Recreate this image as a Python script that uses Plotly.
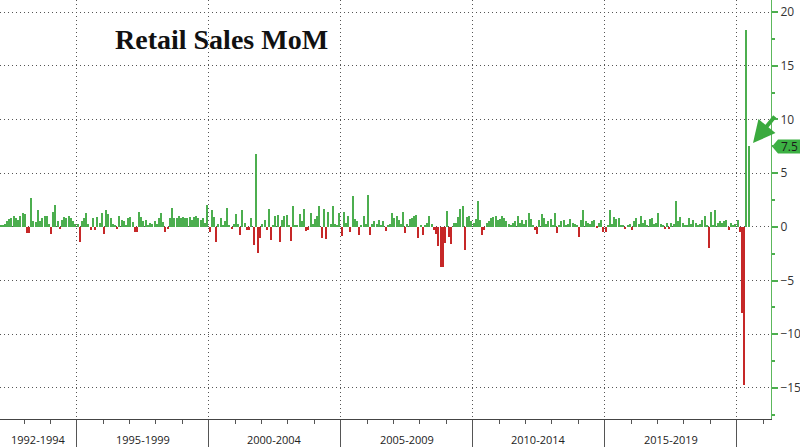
import pandas as pd
import plotly.graph_objects as go

# Monthly US retail sales, % change MoM (Feb 1992 - Jun 2020)
v_1992_1994 = [0.1, 0.2, 0.25, 0.55, 0.75, 0.85, 1.0, 0.8, 0.6, 1.05, 1.3,
               1.2, -0.6, -0.6, 2.7, 0.55, 0.45, 1.6, 0.5, 0.8, 1.05, 1.05, 0.3,
               -0.7, 1.4, 2.0, 0.5, -0.2, 0.65, 0.95, 0.8, 1.05, 0.85, 0.5, 0.3]
v_1995_1999 = [0.25, -1.45, 0.55, 0.85, 1.3, 0.25, -0.3, 0.8, -0.3, 0.95, 0.35, 1.3,
               -0.7, 1.6, 1.2, 0.85, 0.25, 0.1, -0.2, 1.05, 0.65, 0.5, 0.1, 0.8,
               0.95, 0.45, -0.45, -0.5, 1.4, 0.95, 0.5, 0.65, 0.1, 0.35, 0.25, 0.5,
               0.25, 0.8, 1.3, 0.45, -0.45, -0.2, 0.8, 1.75, 0.85, 0.85, 1.05, 0.85,
               0.95, 0.85, 0.8, 0.95, 0.6, 0.9, 1.0, 0.8, 0.6, 0.8, 0.4, 2.0]
v_2000_2004 = [-0.5, 1.6, 0.9, -1.4, 0.3, 0.8, 0.2, 0.5, 1.8, 0.1, -0.2, 0.3,
               1.2, 0.3, -0.75, 1.6, 0.4, -0.3, -0.3, 0.8, -1.7, 6.8, -2.4, -1.05,
               0.3, 0.6, -0.3, 1.7, -1.2, 0.2, 1.0, 1.1, -1.4, 0.6, 1.0, 1.1,
               0.2, -1.3, 1.9, 0.1, 0.2, 1.2, 0.5, 1.7, -0.4, -0.3, 1.3, 0.3,
               0.7, 1.0, 1.9, -1.0, 1.7, -1.15, 1.4, 0.3, 1.9, 0.3, 0.2, 1.3]
v_2005_2009 = [-0.85, 1.4, 0.4, 1.0, -0.45, 2.9, 0.7, 0.5, -0.75, 0.2, 1.0, 0.3,
               3.0, -0.8, 0.3, 0.5, 0.3, 0.6, 0.2, 0.5, -0.4, 0.2, 0.3, 1.3,
               0.8, 1.0, 0.6, 0.3, 1.4, -0.6, 0.3, 0.7, 0.8, 1.0, 1.1, -1.05,
               0.2, -0.75, 0.1, 0.4, 1.0, 0.3, -0.3, -0.7, -1.8, -3.7, -3.7, -1.5,
               1.5, -0.9, -1.6, 0.4, 0.4, 0.9, 1.7, 1.9, -2.2, 0.9, 1.0, 0.5]
v_2010_2014 = [0.4, 0.7, 2.4, 0.6, -0.75, -0.3, 0.4, 0.5, 0.8, 0.9, 1.0, 0.6,
               0.7, 1.0, 0.8, 0.5, 0.3, 0.2, 0.4, 0.5, 1.0, 0.4, 0.6, 0.3,
               0.6, 1.3, 0.7, 0.2, -0.3, -0.7, 0.6, 1.2, 0.8, 0.3, 0.5, 0.7,
               0.2, 1.3, -0.6, 0.2, 0.5, 0.6, 0.2, 0.3, 0.7, 0.4, 0.3, 0.1,
               -0.95, 0.6, 1.6, 0.5, 0.4, 0.3, 0.5, 0.6, -0.1, 0.4, 0.6, -0.45]
v_2015_2019 = [-0.45, 0.2, 1.6, 0.3, 0.9, 0.7, 0.8, 0.2, 0.1, -0.2, 0.2, 0.3,
               -0.3, 0.5, 0.8, 0.3, 1.0, 0.4, 0.6, 0.2, 0.7, 0.8, 0.3, 0.4,
               1.3, 0.3, 0.1, -0.2, 0.4, -0.2, 0.4, 0.3, 2.4, 0.5, 0.9, 0.4,
               0.2, 0.2, 0.8, 0.3, 0.6, 0.4, 0.2, 0.3, 0.6, 1.0, 0.2, -2.0,
               1.4, 0.2, 1.6, 0.4, 0.5, 0.4, 0.5, 0.6, -0.3, 0.4, 0.2, 0.3]
v_2020 = [0.6, -0.5, -8.0, -14.7, 18.3, 7.5]

period_labels = ["1992-1994", "1995-1999", "2000-2004", "2005-2009", "2010-2014", "2015-2019"]
period_bounds = ["1992-01-01", "1995-01-01", "2000-01-01", "2005-01-01",
                 "2010-01-01", "2015-01-01", "2020-01-01"]
y_ticks = [-15, -10, -5, 0, 5, 10, 15, 20]
last_value = 7.5

values = v_1992_1994 + v_1995_1999 + v_2000_2004 + v_2005_2009 + v_2010_2014 + v_2015_2019 + v_2020
months = pd.date_range("1992-02-01", periods=len(values), freq="MS") + pd.Timedelta(days=14)

GREEN = "#4cae4f"
RED = "#c62828"
colors = [GREEN if v >= 0 else RED for v in values]

x_start = pd.Timestamp("1992-02-04")
x_end = pd.Timestamp("2021-04-19")

W, H = 800, 447
ML, MR, MT, MB = 0, 29, 0, 28
PW, PH = W - ML - MR, H - MT - MB


def px_x(px):
    return (px - ML) / PW


def px_y(py):
    return (H - MB - py) / PH


def date_paper(d):
    d = pd.Timestamp(d)
    return (d - x_start) / (x_end - x_start)


fig = go.Figure()
fig.add_trace(go.Bar(
    x=months, y=values, marker=dict(color=colors, line=dict(width=0)),
    width=20 * 86400000, showlegend=False, hoverinfo="x+y",
))

annotations = []
for i, lab in enumerate(period_labels):
    a = max(date_paper(period_bounds[i]), 0)
    b = date_paper(period_bounds[i + 1])
    annotations.append(dict(x=(a + b) / 2, y=px_y(439), xref="paper", yref="paper",
                            text=lab, showarrow=False, xanchor="center", yanchor="middle",
                            borderpad=0,
                            font=dict(family="Open Sans", size=11, color="#222")))

annotations.append(dict(x=px_x(113), y=px_y(40), xref="paper", yref="paper",
                        text="<b>Retail Sales MoM</b>", showarrow=False,
                        xanchor="left", yanchor="middle",
                        font=dict(family="Liberation Serif", size=28, color="#111")))

# arrow pointing to the last bar
annotations.append(dict(x=px_x(753), y=7.8, xref="paper", yref="y", text="",
                        showarrow=True, ax=23, ay=-28, arrowcolor="#3aaa3e",
                        arrowwidth=4, arrowhead=2, arrowsize=1.1))

# last value label
annotations.append(dict(x=px_x(790), y=last_value, xref="paper", yref="y",
                        text=f"{last_value}", showarrow=False, xanchor="center",
                        yanchor="middle", font=dict(family="Open Sans", size=12, color="#1b1b1b")))

y_lab = 227 - last_value * 10.74
shapes = [dict(type="path", xref="paper", yref="paper",
               path=(f"M {px_x(772)} {px_y(y_lab)} L {px_x(778)} {px_y(y_lab - 7)} "
                     f"L {px_x(800)} {px_y(y_lab - 7)} L {px_x(800)} {px_y(y_lab + 7)} "
                     f"L {px_x(778)} {px_y(y_lab + 7)} Z"),
               fillcolor="#3cb043", line=dict(width=0), layer="below")]

GRID_DASH = "1px,3px"

fig.update_layout(
    width=W, height=H, margin=dict(l=ML, r=MR, t=MT, b=MB),
    paper_bgcolor="white", plot_bgcolor="white",
    bargap=0, annotations=annotations, shapes=shapes,
    xaxis=dict(type="date", range=[x_start, x_end],
               tickvals=period_bounds[1:], showticklabels=False,
               ticks="outside", ticklen=28, tickcolor="#555", tickwidth=1,
               showgrid=True, gridcolor="#555", griddash=GRID_DASH, gridwidth=1,
               showline=True, linecolor="#444", linewidth=1, zeroline=False,
               minor=dict(dtick="M12", tick0="1992-01-01", ticks="outside",
                          ticklen=4, tickcolor="#555", showgrid=False)),
    yaxis=dict(side="right", range=[-17.89, 21.12], tickvals=y_ticks,
               ticks="outside", ticklen=6, tickcolor="#4cae4f", tickwidth=2,
               showline=True, linecolor="#5cb85c", linewidth=1,
               showgrid=True, gridcolor="#555", griddash=GRID_DASH, gridwidth=1,
               zeroline=False,
               tickfont=dict(family="Open Sans", size=12, color="#333"),
               minor=dict(dtick=2.5, tick0=0, ticks="outside", ticklen=3,
                          tickcolor="#4cae4f", showgrid=False)),
)

fig.write_html("out.html")
